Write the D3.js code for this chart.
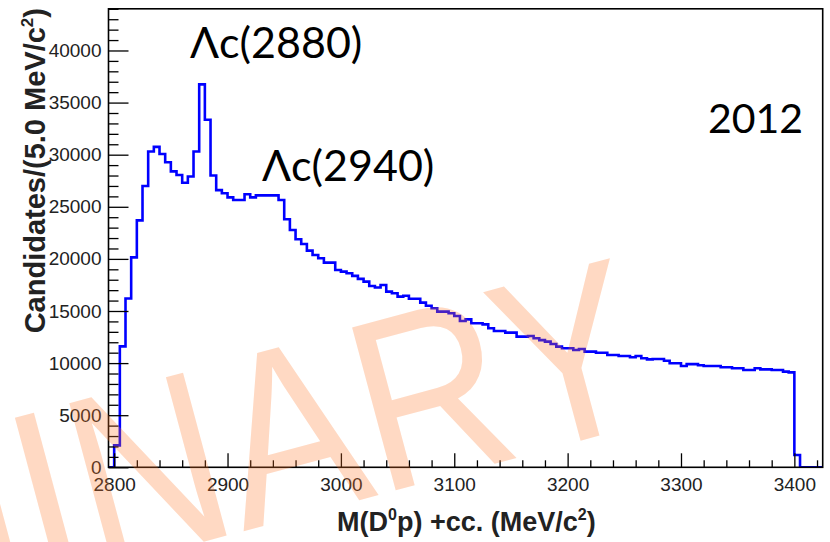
<!DOCTYPE html>
<html><head><meta charset="utf-8">
<script src="https://cdn.jsdelivr.net/npm/d3@7"></script>
<style>body{margin:0;background:#fff} svg{display:block}</style>
</head><body><svg id="c" width="830" height="542"></svg>
<script>
// ---- data ----
const binStart = 2795, binWidth = 5;
const counts = [
  0, 2100, 11600, 16200, 20150, 23700, 27000, 30300, 30750, 30070,
  29270, 28400, 28050, 27300, 27900, 30300, 36750, 33350, 28000, 26600,
  26300, 25900, 25650, 25650, 26200, 25900, 26100, 26100, 26100, 26100,
  25650, 23800, 22770, 21880, 21430, 20790, 20370, 20060, 19640, 19640,
  18940, 18780, 18620, 18370, 18080, 17820, 17400, 17250, 17500, 16860,
  16700, 16380, 16470, 16180, 16180, 15800, 15500, 15260, 14940, 14940,
  14780, 14520, 14040, 14200, 13820, 13820, 13720, 13340, 13080, 13080,
  12920, 12920, 12540, 12540, 12600, 12380, 12200, 12060, 11830, 11580,
  11420, 11420, 11260, 11350, 11100, 11100, 11000, 11000, 10780, 10780,
  10680, 10680, 10560, 10680, 10460, 10360, 10390, 10390, 10230, 9980,
  9980, 9720, 9900, 9900, 9800, 9720, 9720, 9720, 9600, 9600,
  9500, 9500, 9340, 9340, 9500, 9400, 9400, 9340, 9340, 9180,
  9110, 1180, 0, 0, 0, 0
];
const xDomain = [2795, 3425];
const yDomain = [0, 44000];
const xMajorTicks = [2800, 2900, 3000, 3100, 3200, 3300, 3400];
const xMinorTicks = [2820,2840,2860,2880,2920,2940,2960,2980,3020,3040,3060,3080,3120,3140,3160,3180,3220,3240,3260,3280,3320,3340,3360,3380,3420];
const yMajorTicks = [0, 5000, 10000, 15000, 20000, 25000, 30000, 35000, 40000];
const yMinorTicks = [1000,2000,3000,4000,6000,7000,8000,9000,11000,12000,13000,14000,16000,17000,18000,19000,21000,22000,23000,24000,26000,27000,28000,29000,31000,32000,33000,34000,36000,37000,38000,39000,41000,42000,43000,44000];
const peakLabels = ["Λc(2880)", "Λc(2940)"];
const yearLabel = "2012";
const watermark = "PRELIMINARY";

// ---- layout ----
const L = 108.5, R = 822.7, T = 8.8, B = 467.3;
const svg = d3.select("#c");
const x = d3.scaleLinear().domain(xDomain).range([L, R]);
const y = d3.scaleLinear().domain(yDomain).range([B, T]);

svg.append("defs").append("clipPath").attr("id","clip")
  .append("rect").attr("x", L).attr("y", T).attr("width", R-L).attr("height", B-T);

// histogram
const pts = counts.map((c,i)=>[binStart + i*binWidth, c]);
pts.push([binStart + counts.length*binWidth, counts[counts.length-1]]);
svg.append("path")
  .attr("clip-path","url(#clip)")
  .attr("d", d3.line().x(d=>x(d[0])).y(d=>y(d[1])).curve(d3.curveStepAfter)(pts))
  .attr("fill","none").attr("stroke","#0000ff").attr("stroke-width",2.6);

const tickFont = "'Liberation Sans', Arial, sans-serif";
// x axis
const gx = svg.append("g").attr("transform",`translate(0,${B})`);
gx.call(d3.axisBottom(x).tickValues(xMajorTicks).tickSize(-14).tickPadding(10).tickFormat(d3.format("d")));
gx.append("g").call(d3.axisBottom(x).tickValues(xMinorTicks).tickSize(-7).tickFormat(""));
// y axis
const gy = svg.append("g").attr("transform",`translate(${L},0)`);
gy.call(d3.axisLeft(y).tickValues(yMajorTicks).tickSize(-20).tickPadding(7).tickFormat(d3.format("d")));
gy.append("g").call(d3.axisLeft(y).tickValues(yMinorTicks).tickSize(-10).tickFormat(""));
svg.selectAll(".domain").remove();
svg.selectAll(".tick line").attr("stroke","#000").attr("stroke-width",1.3);
svg.selectAll(".tick text").attr("font-family",tickFont).attr("font-size",19).attr("fill","#222");

// frame
svg.append("rect").attr("x",L).attr("y",T).attr("width",R-L).attr("height",B-T)
  .attr("fill","none").attr("stroke","#000").attr("stroke-width",1.6);

// axis titles
const xt = svg.append("text").attr("x", 337).attr("y", 531)
  .attr("font-family",tickFont).attr("font-weight","bold").attr("font-size",27).attr("fill","#222");
xt.append("tspan").text("M(D");
xt.append("tspan").text("0").attr("font-size",16).attr("dy",-11);
xt.append("tspan").text("p) +cc. (MeV/c").attr("dy",11);
xt.append("tspan").text("2").attr("font-size",16).attr("dy",-11);
xt.append("tspan").text(")").attr("dy",11);

const yt = svg.append("text").attr("transform","translate(45,8) rotate(-90)")
  .attr("text-anchor","end")
  .attr("font-family",tickFont).attr("font-weight","bold").attr("font-size",29).attr("fill","#222");
yt.append("tspan").text("Candidates/(5.0 MeV/c");
yt.append("tspan").text("2").attr("font-size",17).attr("dy",-12);
yt.append("tspan").text(")").attr("dy",12);

// annotations
const annFont = "Lato, 'Open Sans', sans-serif";
svg.append("text").attr("x",190).attr("y",58).text(peakLabels[0])
  .attr("font-family",annFont).attr("font-size",43).attr("fill","#000");
svg.append("text").attr("x",262).attr("y",181).text(peakLabels[1])
  .attr("font-family",annFont).attr("font-size",43).attr("fill","#000");
svg.append("text").attr("x",708).attr("y",133).text(yearLabel)
  .attr("font-family",annFont).attr("font-size",41).attr("fill","#000");

// watermark overlay
svg.append("g").attr("transform","translate(658,420) rotate(-15) scale(0.86,1)")
  .append("text").text(watermark)
  .attr("text-anchor","end")
  .attr("font-family",tickFont).attr("font-size",245)
  .attr("fill","rgb(255,120,40)").attr("fill-opacity",0.28);
</script></body></html>
